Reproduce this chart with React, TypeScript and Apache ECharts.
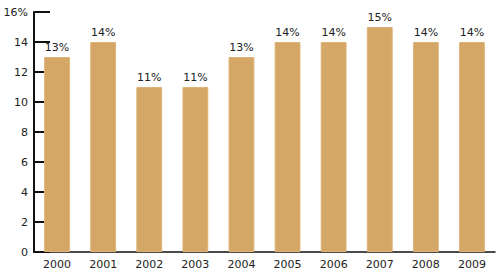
import React, { useEffect, useRef } from "react";
import * as echarts from "echarts";

const categories = ["2000", "2001", "2002", "2003", "2004", "2005", "2006", "2007", "2008", "2009"];
const values = [13, 14, 11, 11, 13, 14, 14, 15, 14, 14];
const yTicks = [0, 2, 4, 6, 8, 10, 12, 14, 16];

export default function App() {
  const ref = useRef<HTMLDivElement>(null);
  useEffect(() => {
    if (!ref.current) return;
    const chart = echarts.init(ref.current, null, { renderer: "svg" });
    const font = "DejaVu Sans";
    chart.setOption({
      animation: false,
      grid: { left: 34, right: 5, top: 12, bottom: 22 },
      xAxis: {
        type: "category",
        data: categories,
        axisLine: { lineStyle: { color: "#111", width: 1.5 } },
        axisTick: { show: false },
        axisLabel: { color: "#222", fontSize: 11, fontFamily: font, margin: 7 },
      },
      yAxis: {
        type: "value",
        min: 0,
        max: 16,
        interval: 2,
        axisLine: { show: true, lineStyle: { color: "#111", width: 2 } },
        axisTick: { show: true, inside: true, length: 16, lineStyle: { color: "#111", width: 2 } },
        splitLine: { show: false },
        axisLabel: {
          color: "#222",
          fontSize: 11,
          fontFamily: font,
          margin: 6,
          formatter: (v: number) => (v === yTicks[yTicks.length - 1] ? v + "%" : String(v)),
        },
      },
      series: [
        {
          type: "bar",
          data: values,
          barWidth: "56%",
          itemStyle: { color: "#D4A767", borderColor: "#DDB478", borderWidth: 1 },
          label: {
            show: true,
            position: "top",
            formatter: "{c}%",
            color: "#222",
            fontSize: 11,
            fontFamily: font,
            distance: 4,
          },
        },
      ],
    });
    return () => chart.dispose();
  }, []);
  return <div ref={ref} style={{ width: 500, height: 274, position: "absolute", left: 0, top: 0 }} />;
}
